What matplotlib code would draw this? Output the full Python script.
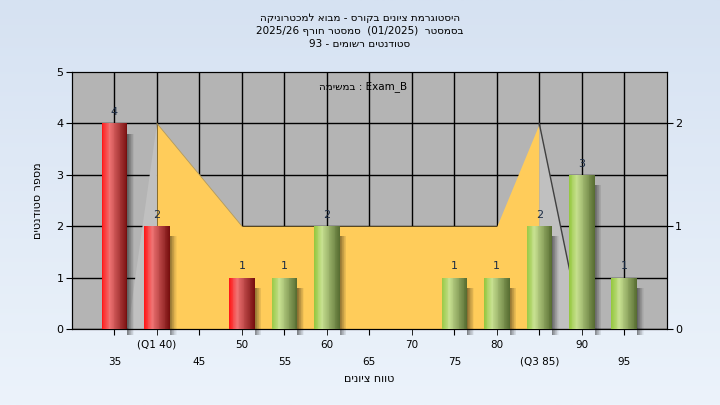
import re
import numpy as np
import matplotlib
matplotlib.use("Agg")
import matplotlib.pyplot as plt

# data
grades = [35, 40, 45, 50, 55, 60, 65, 70, 75, 80, 85, 90, 95]
counts = [4, 2, 0, 1, 1, 2, 0, 0, 1, 1, 2, 3, 1]
pass_grade = 55
tick_labels = ['35', '(Q1 40)', '45', '50', '55', '60', '65', '70', '75', '80', '(Q3 85)', '90', '95']

# box (quartile) curve on the right axis
box_x = [40, 50, 80, 85]
box_y = [2, 1, 1, 2]
whisker_left_x = [36.6, 40, 40]
whisker_left_y = [0, 2, 0]
whisker_right_x = [85, 90, 85]
whisker_right_y = [2, 0, 0]

title_lines = ['היסטוגרמת ציונים בקורס - מבוא למכטרוניקה',
               'בסמסטר  (01/2025)  סמסטר חורף 2025/26',
               'סטודנטים רשומים - 93']
task_text = 'במשימה : Exam_B'
ylabel = 'מספר סטודנטים'
xlabel = 'טווח ציונים'


def visual(s, rtl=True):
    # matplotlib has no bidi, so build the visual order by hand
    toks = re.findall(r'[\u0590-\u05FF]+|[A-Za-z0-9_/.]+|[^\u0590-\u05FFA-Za-z0-9_/.]', s)
    out = [t[::-1] if re.match(r'[\u0590-\u05FF]', t) else t for t in toks]
    if rtl:
        out = out[::-1]
        out = [{'(': ')', ')': '('}.get(t, t) for t in out]
    return ''.join(out)


def bar_colors(base, n):
    t = np.linspace(0, 1, n)
    if base == 'red':
        stops = [(0, (255, 25, 25)), (0.3, (240, 115, 115)), (1, (120, 15, 15))]
    else:
        stops = [(0, (150, 200, 65)), (0.3, (200, 225, 145)), (1, (88, 110, 50))]
    xs = [s[0] for s in stops]
    cols = []
    for k in range(3):
        cols.append(np.interp(t, xs, [s[1][k] for s in stops]) / 255)
    return list(zip(*cols))


plt.rcParams['font.family'] = ['DejaVu Sans']
fig = plt.figure(figsize=(7.2, 4.05), dpi=100)

# light blue gradient background
bg = fig.add_axes([0, 0, 1, 1], zorder=-10)
grad = np.linspace(0, 1, 256).reshape(-1, 1)
top = np.array([214, 226, 242]) / 255
bot = np.array([236, 243, 251]) / 255
img = top + (bot - top) * grad[:, :, None]
bg.imshow(img, aspect='auto', extent=(0, 1, 0, 1))
bg.axis('off')

ax = fig.add_axes([0.1, 0.188, 0.826, 0.634])
ax.set_facecolor('#b4b4b4')
ax.set_axisbelow(True)

# area on this axes (right scale)
ax.fill_between(box_x, box_y, color='#ffcc5a', lw=0, zorder=2)
ax.plot(box_x[:2], box_y[:2], color='#b09a60', lw=0.6, zorder=2)
ax.fill(whisker_left_x, whisker_left_y, color='#c0c0c0', lw=0, zorder=2)
ax.fill(whisker_right_x, whisker_right_y, color='#c0c0c0', lw=0, zorder=2)
ax.plot(whisker_right_x[:2], whisker_right_y[:2], color='#404040', lw=1, zorder=2)

ax.set_xlim(30, 100)
ax.set_ylim(0, 2.5)

# staggered x labels
lower = [i for i in range(len(grades)) if i % 2 == 0]
upper = [i for i in range(len(grades)) if i % 2 == 1]
ax.set_xticks([grades[i] for i in lower], [tick_labels[i] for i in lower])
ax.set_xticks([grades[i] for i in upper], [tick_labels[i] for i in upper], minor=True)
ax.tick_params(axis='x', which='major', length=4, labelsize=7.5, pad=16)
ax.tick_params(axis='x', which='minor', length=4, labelsize=7.5, pad=4)
ax.xaxis.grid(True, which='both', color='black', lw=1)
ax.set_xlabel(visual(xlabel), fontsize=8, labelpad=5)

# bars on twin axes (left scale)
ax2 = ax.twinx()
ax2.yaxis.tick_left()
ax2.yaxis.set_label_position('left')
ax2.set_ylim(0, 5)
ax2.set_yticks(range(6))
ax2.tick_params(axis='y', length=4, labelsize=8, pad=2)
ax2.set_ylabel(visual(ylabel), fontsize=8, labelpad=10)

# right scale ticks go back to the right side after twinx
ax.yaxis.tick_right()
ax.set_yticks([0, 1, 2])
ax.set_yticks([0.5, 1.5], minor=True)
ax.tick_params(axis='y', which='major', length=4, labelsize=8, pad=2)
ax.tick_params(axis='y', which='minor', length=0)
ax.yaxis.grid(True, which='both', color='black', lw=1)

w = 3.0
n = 30
ns = 10
for g, c in zip(grades, counts):
    if c == 0:
        continue
    # blurred shadow to the right
    sx = g + w / 2 + np.arange(ns) * 0.8 / ns
    alphas = np.linspace(0.45, 0.04, ns)
    for x0, a in zip(sx, alphas):
        ax2.bar(x0, c - 0.2 + 0.12, width=0.8 / ns, bottom=-0.12, align='edge',
                color='black', alpha=a, lw=0, zorder=3, clip_on=False)
    cols = bar_colors('red' if g < pass_grade else 'green', n)
    xs = g - w / 2 + (np.arange(n) + 0.5) * w / n
    ax2.bar(xs, [c] * n, width=w / n * 1.05, color=cols, lw=0, zorder=4)
    ax2.text(g, c + 0.12, str(c), ha='center', va='bottom', fontsize=8,
             color='#1c2c44', zorder=5)

ax2.set_xlim(30, 100)
for sp in ax2.spines.values():
    sp.set_color('black')

ax2.text(0.49, 0.945, visual(task_text, rtl=False), transform=ax2.transAxes,
         ha='center', va='center', fontsize=7.5, zorder=6)

ys = [0.956, 0.923, 0.891]
for line, y in zip(title_lines, ys):
    fig.text(0.5, y, visual(line), ha='center', va='center', fontsize=7.5)

fig.savefig('out.png', dpi=100)
